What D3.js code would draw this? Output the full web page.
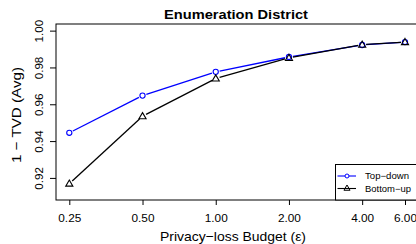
<!DOCTYPE html>
<html>
<head>
<meta charset="utf-8">
<script src="https://cdn.jsdelivr.net/npm/d3@7"></script>
<style>
  body { margin: 0; background: #fff; }
  svg { display: block; font-family: "Liberation Sans", Arial, sans-serif; }
</style>
</head>
<body>
<svg id="chart" width="416" height="244"></svg>
<script>
// privacy-loss budgets (x) and 1 - TVD values per method
const budgets = [0.25, 0.5, 1, 2, 4, 6];
const budgetLabels = ["0.25", "0.50", "1.00", "2.00", "4.00", "6.00"];
const topDown = [0.9445, 0.9647, 0.9776, 0.9857, 0.9922, 0.9938];
const bottomUp = [0.9169, 0.9535, 0.9740, 0.9852, 0.9924, 0.9938];
const yTicks = [0.92, 0.94, 0.96, 0.98, 1.00];

const svg = d3.select("#chart");
const box = { left: 56, top: 24, right: 430, bottom: 200 };
const font = "Liberation Sans, Arial, sans-serif";

// the picture's text runs a bit wider than its height suggests; stretch to fit
function fit(sel, w) {
  sel.attr("textLength", w).attr("lengthAdjust", "spacingAndGlyphs");
  return sel;
}

// log x, as R plot(log="x")
const x = d3.scaleLog().domain([0.25, 6]).range([69.3, 405]);
const y = d3.scaleLinear().domain([0.908, 1.0036]).range([box.bottom, box.top]);

// plot box
svg.append("rect")
  .attr("x", box.left).attr("y", box.top)
  .attr("width", box.right - box.left).attr("height", box.bottom - box.top)
  .attr("fill", "none").attr("stroke", "#000").attr("stroke-width", 1);

// x axis
const xAxis = svg.append("g").attr("transform", `translate(0,${box.bottom})`)
  .call(d3.axisBottom(x).tickValues(budgets)
    .tickFormat((d, i) => budgetLabels[i]).tickSize(5).tickSizeOuter(0));
xAxis.select(".domain").remove();
fit(xAxis.selectAll("text").attr("font-size", 11).attr("fill", "#000")
  .attr("font-family", font).attr("y", 22).attr("dy", null), 23);

// y axis, labels rotated like R's default las=0
const yAxis = svg.append("g").attr("transform", `translate(${box.left},0)`)
  .call(d3.axisLeft(y).tickValues(yTicks).tickFormat(d3.format(".2f")).tickSize(6).tickSizeOuter(0));
yAxis.select(".domain").remove();
fit(yAxis.selectAll("text")
  .attr("font-size", 11).attr("fill", "#000")
  .attr("font-family", font)
  .attr("x", null).attr("dy", null)
  .attr("text-anchor", "middle")
  .attr("transform", "translate(-13,0) rotate(-90)"), 22.5);

// titles
fit(svg.append("text").attr("x", 236).attr("y", 19).attr("text-anchor", "middle")
  .attr("font-size", 13).attr("font-weight", "bold").text("Enumeration District"), 144);
fit(svg.append("text").attr("x", 233).attr("y", 241).attr("text-anchor", "middle")
  .attr("font-size", 13.5).text("Privacy\u2212loss Budget (\u03b5)"), 146);
fit(svg.append("text").attr("transform", `translate(21,${(box.top + box.bottom) / 2 + 3}) rotate(-90)`)
  .attr("text-anchor", "middle").attr("font-size", 13.5).text("1 \u2212 TVD (Avg)"), 96);

// type="b" lines: segments with a gap around each point
function drawSeries(vals, color, shape) {
  const pts = budgets.map((b, i) => [x(b), y(vals[i])]);
  const gap = 4;
  const g = svg.append("g");
  d3.pairs(pts).forEach(([a, b]) => {
    const dx = b[0] - a[0], dy = b[1] - a[1];
    const len = Math.hypot(dx, dy);
    if (len <= 2 * gap) return;
    const ux = dx / len, uy = dy / len;
    g.append("line")
      .attr("x1", a[0] + ux * gap).attr("y1", a[1] + uy * gap)
      .attr("x2", b[0] - ux * gap).attr("y2", b[1] - uy * gap)
      .attr("stroke", color).attr("stroke-width", 1.3);
  });
  pts.forEach(p => {
    if (shape === "circle") {
      g.append("circle").attr("cx", p[0]).attr("cy", p[1]).attr("r", 2.6)
        .attr("fill", "none").attr("stroke", color).attr("stroke-width", 1.1);
    } else {
      g.append("path")
        .attr("d", d3.symbol(d3.symbolTriangle, 22)())
        .attr("transform", `translate(${p[0]},${p[1] + 0.5})`)
        .attr("fill", "none").attr("stroke", color).attr("stroke-width", 1.1);
    }
  });
}
drawSeries(topDown, "#0000ff", "circle");
drawSeries(bottomUp, "#000000", "triangle");

// legend
const lg = svg.append("g");
lg.append("rect").attr("x", 335.5).attr("y", 164.5).attr("width", 100).attr("height", 35.5)
  .attr("fill", "#fff").attr("stroke", "#000").attr("stroke-width", 1);
const legendItems = [
  { label: "Top\u2212down", color: "#0000ff", shape: "circle", yy: 176, w: 44 },
  { label: "Bottom\u2212up", color: "#000000", shape: "triangle", yy: 188.5, w: 46 }
];
legendItems.forEach(d => {
  lg.append("line").attr("x1", 337.5).attr("x2", 356).attr("y1", d.yy).attr("y2", d.yy)
    .attr("stroke", d.color).attr("stroke-width", 1.1);
  if (d.shape === "circle") {
    lg.append("circle").attr("cx", 347).attr("cy", d.yy).attr("r", 2)
      .attr("fill", "#fff").attr("stroke", d.color).attr("stroke-width", 1);
  } else {
    lg.append("path").attr("d", d3.symbol(d3.symbolTriangle, 16)())
      .attr("transform", `translate(347,${d.yy})`)
      .attr("fill", "none").attr("stroke", d.color).attr("stroke-width", 1);
  }
  fit(lg.append("text").attr("x", 365).attr("y", d.yy + 3.2).attr("font-size", 9).text(d.label), d.w);
});
</script>
</body>
</html>
